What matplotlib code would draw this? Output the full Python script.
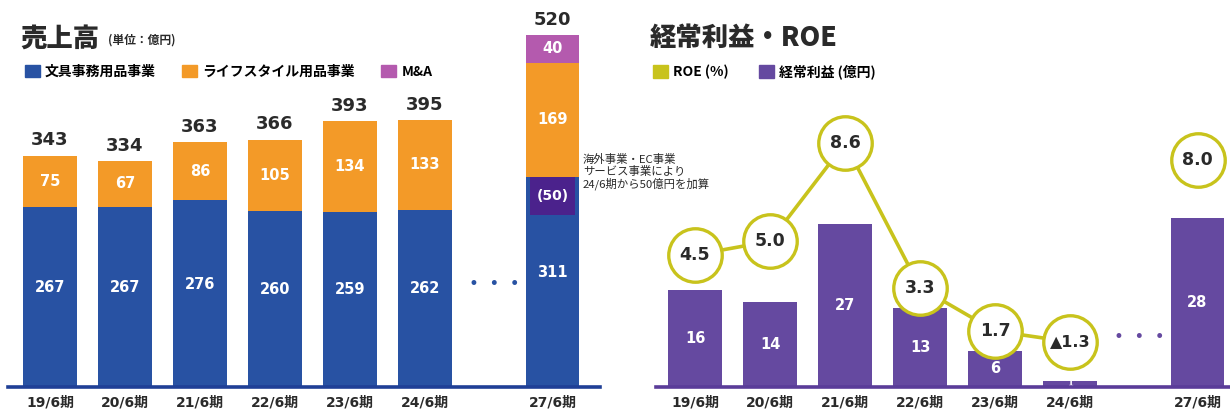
import matplotlib
matplotlib.use("Agg")
import matplotlib.pyplot as plt
from matplotlib.patches import Patch

plt.rcParams['font.family'] = ['Noto Sans CJK JP', 'DejaVu Sans']
NUMFONT = ['DejaVu Sans', 'Noto Sans CJK JP']

# ---------------- data ----------------
periods_left = ["19/6期", "20/6期", "21/6期", "22/6期", "23/6期", "24/6期", "27/6期"]
stationery = [267, 267, 276, 260, 259, 262, 311]
lifestyle = [75, 67, 86, 105, 134, 133, 169]
mna = [0, 0, 0, 0, 0, 0, 40]
totals = [343, 334, 363, 366, 393, 395, 520]
added_part = 50  # part of 27/6 stationery added from 24/6

periods_right = ["19/6期", "20/6期", "21/6期", "22/6期", "23/6期", "24/6期", "27/6期"]
ordinary_profit = [16, 14, 27, 13, 6, 1, 28]
roe = [4.5, 5.0, 8.6, 3.3, 1.7, -1.3, 8.0]

# ---------------- styles ----------------
BLUE = "#2852a3"
ORANGE = "#f39a28"
MAGENTA = "#b45aae"
DARKPURPLE = "#4b228c"
PURPLE = "#6549a0"
YELLOW = "#c8c31c"
TXT = "#2a2a2a"

pos = [0, 1, 2, 3, 4, 5, 6.7]
W = 0.71

fig = plt.figure(figsize=(12.3, 4.12), dpi=100)

# ---------------- left chart ----------------
axL = fig.add_axes([8 / 1230, 25 / 412, 592 / 1230, 387 / 412])
axL.set_xlim(-0.56, 7.333)
axL.set_ylim(0, 387 / 0.676)
axL.bar(pos, stationery, W, color=BLUE, zorder=2)
axL.bar(pos, lifestyle, W, bottom=stationery, color=ORANGE, zorder=2)
base2 = [s + l for s, l in zip(stationery, lifestyle)]
axL.bar(pos[-1:], mna[-1:], W, bottom=base2[-1:], color=MAGENTA, zorder=2)
# added portion box in 27/6
axL.bar(pos[-1], added_part + 6, W - 0.1, bottom=stationery[-1] - added_part - 6,
        color=DARKPURPLE, zorder=3)
axL.text(pos[-1], stationery[-1] - (added_part + 6) / 2, f"({added_part})", color="white",
         fontsize=10, fontweight="bold", ha="center", va="center", zorder=4, family=NUMFONT)

for x, s, l, m, t in zip(pos, stationery, lifestyle, mna, totals):
    axL.text(x, s / 2 + 14, str(s), color="white", fontsize=10.5, fontweight="bold",
             ha="center", va="center", zorder=4, family=NUMFONT)
    axL.text(x, s + l / 2, str(l), color="white", fontsize=10.5, fontweight="bold",
             ha="center", va="center", zorder=4, family=NUMFONT)
    if m:
        axL.text(x, s + l + m / 2, str(m), color="white", fontsize=10.5, fontweight="bold",
                 ha="center", va="center", zorder=4, family=NUMFONT)
    axL.text(x, t + 9, str(t), color=TXT, fontsize=13, fontweight="bold",
             ha="center", va="bottom", zorder=4, clip_on=False, family=NUMFONT)

axL.text(5.93, 152, "•  •  •", color=BLUE, fontsize=12, ha="center", va="center",
         family=NUMFONT)
axL.axhline(0, color="#1f3f96", lw=2.6, zorder=5, clip_on=False)
axL.set_xticks(pos)
axL.set_xticklabels(periods_left, fontsize=10, fontweight="bold", color=TXT, family=NUMFONT)
axL.tick_params(axis="x", length=0, pad=6)
axL.set_yticks([])
for sp in axL.spines.values():
    sp.set_visible(False)
axL.patch.set_alpha(0)

fig.text(583 / 1230, 1 - 172 / 412,
         "海外事業・EC事業\nサービス事業により\n24/6期から50億円を加算",
         fontsize=8.2, color=TXT, ha="left", va="center", linespacing=1.1)

# ---------------- right chart ----------------
axR = fig.add_axes([656 / 1230, 25 / 412, 574 / 1230, 367 / 412])
axR.set_xlim(-0.52, 7.133)
axR.set_ylim(0, 367 / 6.04)
axR.bar(pos, ordinary_profit, W, color=PURPLE, zorder=2)
for x, v in zip(pos, ordinary_profit):
    axR.text(x, v / 2, str(v), color="white", fontsize=10.5 if v > 2 else 6,
             fontweight="bold", ha="center", va="center", zorder=3, family=NUMFONT)
axR.text(5.93, 8.3, "•  •  •", color=PURPLE, fontsize=12, ha="center", va="center",
         family=NUMFONT)
axR.axhline(0, color="#5a3c99", lw=2.6, zorder=5, clip_on=False)
axR.set_xticks(pos)
axR.set_xticklabels(periods_right, fontsize=10, fontweight="bold", color=TXT, family=NUMFONT)
axR.tick_params(axis="x", length=0, pad=6)
axR.set_yticks([])
for sp in axR.spines.values():
    sp.set_visible(False)

axR2 = axR.twinx()
axR2.set_ylim(-0.36, 13.14)
roe_mag = [abs(v) for v in roe]
axR2.plot(pos[:6], roe_mag[:6], color=YELLOW, lw=2.6, zorder=3)
axR2.plot(pos, roe_mag, linestyle="none", marker="o", markersize=38.5,
          markerfacecolor="white", markeredgecolor=YELLOW, markeredgewidth=2.4, zorder=4,
          clip_on=False)
for x, v, m in zip(pos, roe, roe_mag):
    lab = f"{v:.1f}" if v >= 0 else f"▲{abs(v):.1f}"
    axR2.text(x, m, lab, color=TXT, fontsize=12.5 if v >= 0 else 11.5, fontweight="bold",
              ha="center", va="center", zorder=5, family=NUMFONT)
axR2.set_yticks([])
for sp in axR2.spines.values():
    sp.set_visible(False)

# ---------------- titles & legends ----------------
fig.text(20 / 1230, 1 - 38 / 412, "売上高", fontsize=19, fontweight="black", color=TXT,
         ha="left", va="center")
fig.text(108 / 1230, 1 - 40 / 412, "(単位：億円)", fontsize=8.5, fontweight="bold",
         color=TXT, ha="left", va="center")
fig.text(650 / 1230, 1 - 38 / 412, "経常利益・ROE", fontsize=19, fontweight="black",
         color=TXT, ha="left", va="center")

legL = [Patch(color=BLUE, label="文具事務用品事業"),
        Patch(color=ORANGE, label="ライフスタイル用品事業"),
        Patch(color=MAGENTA, label="M&A")]
fig.legend(handles=legL, loc="center left", bbox_to_anchor=(12 / 1230, 1 - 72 / 412),
           ncol=3, frameon=False, handlelength=1.1, handleheight=1.0,
           handletextpad=0.35, columnspacing=1.9, prop={'weight': 'bold', 'size': 10})

legR = [Patch(color=YELLOW, label="ROE (%)"),
        Patch(color=PURPLE, label="経常利益 (億円)")]
fig.legend(handles=legR, loc="center left", bbox_to_anchor=(640 / 1230, 1 - 72 / 412),
           ncol=2, frameon=False, handlelength=1.1, handleheight=1.0,
           handletextpad=0.35, columnspacing=2.2, prop={'weight': 'bold', 'size': 10})

fig.savefig("out.png", dpi=100, facecolor="white")
